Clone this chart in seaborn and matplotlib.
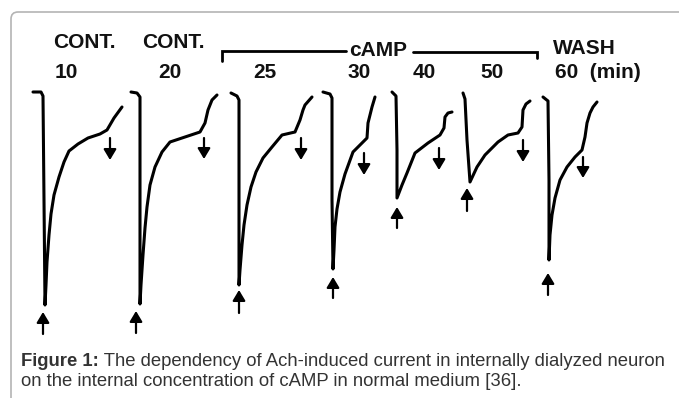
import matplotlib
matplotlib.use("Agg")
import matplotlib.pyplot as plt
from matplotlib.patches import FancyBboxPatch
import pandas as pd
import seaborn as sns

# Recording sweeps: horizontal position along the record and membrane current
# (arbitrary units, 0 = holding level, inward current negative).
sweep_labels = ["10", "20", "25", "30", "40", "50", "60"]

t_10 = [33, 41, 43, 44, 45, 46, 47, 49, 51, 54, 59, 64, 69, 78, 88, 100, 107, 114, 122]
i_10 = [0, 0, -4, -108, -213, -193, -170, -143, -122, -103, -85, -70, -59, -52, -46, -42, -38, -26, -15]

t_20 = [131, 137, 140, 140, 140, 141, 143, 145, 147, 150, 155, 162, 170, 185, 200, 205, 208, 212, 217]
i_20 = [0, -1, -5, -108, -212, -193, -163, -136, -115, -93, -75, -60, -50, -45, -40, -31, -18, -8, -3]

t_25 = [231, 237, 239, 239, 239, 240, 242, 244, 247, 251, 256, 263, 272, 282, 295, 300, 303, 305, 312]
i_25 = [-1, -4, -8, -108, -193, -178, -153, -133, -113, -95, -80, -66, -55, -43, -40, -28, -18, -13, -5]

t_30 = [323, 330, 332, 332, 333, 334, 335, 337, 340, 345, 353, 362, 367, 368, 372, 375]
i_30 = [0, -2, -6, -108, -177, -158, -135, -117, -100, -82, -60, -51, -46, -31, -15, -5]

t_40 = [392, 396, 397, 397, 402, 407, 415, 428, 440, 444, 445, 448, 452]
i_40 = [0, -4, -58, -106, -93, -81, -61, -51, -43, -36, -25, -21, -20]

t_50 = [463, 465, 467, 470, 477, 485, 498, 508, 518, 522, 523, 526, 530]
i_50 = [-1, -7, -48, -90, -75, -63, -50, -43, -41, -35, -18, -12, -9]

t_60 = [543, 548, 549, 549, 550, 552, 555, 560, 567, 575, 582, 585, 587, 590, 593, 597]
i_60 = [-5, -9, -88, -168, -143, -123, -106, -88, -75, -65, -58, -45, -31, -21, -15, -10]

# Application (down) and removal (up) markers: position, start, end
wash_x = [110, 204, 301, 364, 439, 523, 583]
wash_from = [-46, -46, -46, -61, -56, -48, -65]
wash_to = [-68, -67, -68, -83, -78, -70, -86]

peak_x = [43, 136, 239, 333, 397, 467, 548]
peak_from = [-242, -241, -221, -206, -136, -119, -203]
peak_to = [-220, -219, -198, -185, -115, -96, -181]

# Condition headings
cond_text = ["CONT.", "CONT.", "cAMP", "WASH"]
cond_x = [53, 142, 349, 553]
cond_y = [49, 49, 41, 44]
time_x = [55, 158, 253, 347, 413, 480, 555]

caption_bold = "Figure 1:"
caption_rest = " The dependency of Ach-induced current in internally dialyzed neuron"
caption_line2 = "on the internal concentration of cAMP in normal medium [36]."

sns.set_theme(style="white")
plt.rcParams["font.family"] = ["Liberation Sans", "DejaVu Sans"]

frames = []
for lab, t, cur in zip(sweep_labels,
                       [t_10, t_20, t_25, t_30, t_40, t_50, t_60],
                       [i_10, i_20, i_25, i_30, i_40, i_50, i_60]):
    frames.append(pd.DataFrame({"sweep": lab, "t": t, "current": cur}))
df = pd.concat(frames, ignore_index=True)

W, H = 679, 398
fig = plt.figure(figsize=(W / 100, H / 100), dpi=100)
ax = fig.add_axes([0, 0, 1, 1])
ax.set_xlim(0, W)
ax.set_ylim(92 - H, 92)
ax.axis("off")

sns.lineplot(data=df, x="t", y="current", units="sweep", estimator=None,
             sort=False, color="black", lw=2.2, ax=ax, legend=False)
for ln in ax.lines:
    ln.set_solid_joinstyle("round")
    ln.set_solid_capstyle("round")

arrow_kw = dict(arrowstyle="-|>,head_length=0.45,head_width=0.27",
                color="black", lw=1.6, mutation_scale=14, shrinkA=0, shrinkB=0)
for x, a, b in zip(wash_x, wash_from, wash_to):
    ax.annotate("", xy=(x, b), xytext=(x, a), arrowprops=arrow_kw)
for x, a, b in zip(peak_x, peak_from, peak_to):
    ax.annotate("", xy=(x, b), xytext=(x, a), arrowprops=arrow_kw)

head_kw = dict(fontsize=15, fontweight="bold", color="#111111",
               ha="left", va="center")
for s, x, y in zip(cond_text, cond_x, cond_y):
    ax.text(x, y, s, **head_kw)
for k, (s, x) in enumerate(zip(sweep_labels, time_x)):
    ax.text(x, 20, s + ("  (min)" if k == len(sweep_labels) - 1 else ""), **head_kw)

# cAMP perfusion bracket
ax.plot([222, 222, 346], [31, 41, 41], color="black", lw=2.0,
        solid_joinstyle="miter")
ax.plot([413, 537, 537], [40, 40, 34], color="black", lw=2.0,
        solid_joinstyle="miter")

# Panel frame (open to the right and bottom)
frame = FancyBboxPatch((11, 92 - H - 20), W + 20, (92 - 12) - (92 - H - 20),
                       boxstyle="round,pad=0,rounding_size=7",
                       fc="none", ec="#b4b4b4", lw=1.2, clip_on=False)
ax.add_patch(frame)

# Caption
cap_kw = dict(fontsize=13.3, color="#333333", va="center", ha="left")
t1 = ax.text(21, 92 - 361, caption_bold, fontweight="bold", **cap_kw)
fig.canvas.draw()
bb = t1.get_window_extent()
x_after = ax.transData.inverted().transform((bb.x1, 0))[0]
ax.text(x_after, 92 - 361, caption_rest, **cap_kw)
ax.text(21, 92 - 382, caption_line2, **cap_kw)

fig.savefig("out.png", dpi=100)
